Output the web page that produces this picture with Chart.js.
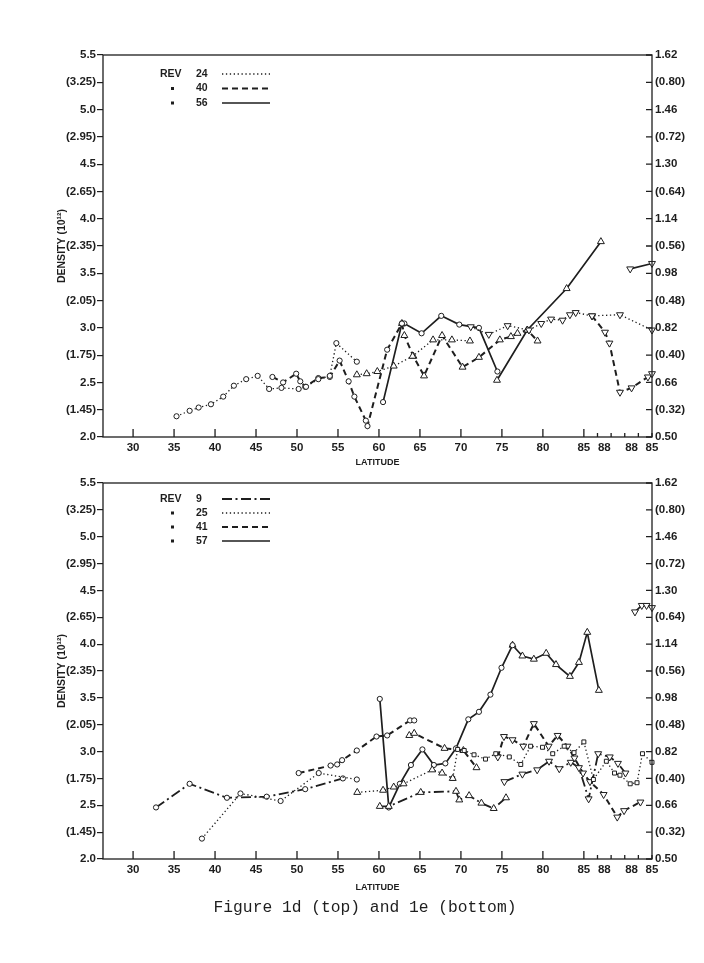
<!DOCTYPE html>
<html>
<head>
<meta charset="utf-8">
<script src="https://cdn.jsdelivr.net/npm/chart.js@4.4.1/dist/chart.umd.min.js"></script>
<style>
  body { margin: 0; background: #fff; width: 704px; height: 963px; position: relative; overflow: hidden; }
  canvas { position: absolute; left: 0; }
  #top { top: 0; }
  #bot { top: 460px; }
  #caption { position: absolute; top: 898px; left: 0; width: 730px; text-align: center;
             font-family: 'Liberation Mono', monospace; font-size: 16.3px; color: #1e1e1e; }
</style>
</head>
<body>
<canvas id="top" width="704" height="475"></canvas>
<canvas id="bot" width="704" height="440"></canvas>
<div id="caption">Figure 1d (top) and 1e (bottom)</div>
<script>
// x axis: latitude up to 85, then the track goes over the pole (90) and back down to 85.
// past 85 the track degrees (86..95) are drawn on a compressed scale
const poleScale = 6.8 / 8.18;
function tx(t) { return t <= 85 ? t : 85 + (t - 85) * poleScale; }

const latTicks = [30, 35, 40, 45, 50, 55, 60, 65, 70, 75, 80, 85];
const poleTicks = [87, 88, 89, 91, 92, 93, 95];
const poleTickLabels = ['', '88', '', '', '88', '', '85'];
const poleTickMarks = [true, false, true, true, false, true, true];

const densityTicks = [2.0, 2.25, 2.5, 2.75, 3.0, 3.25, 3.5, 3.75, 4.0, 4.25, 4.5, 4.75, 5.0, 5.25, 5.5];
const leftLabels = ['2.0', '(1.45)', '2.5', '(1.75)', '3.0', '(2.05)', '3.5', '(2.35)', '4.0', '(2.65)', '4.5', '(2.95)', '5.0', '(3.25)', '5.5'];
const rightLabels = ['0.50', '(0.32)', '0.66', '(0.40)', '0.82', '(0.48)', '0.98', '(0.56)', '1.14', '(0.64)', '1.30', '(0.72)', '1.46', '(0.80)', '1.62'];

// ---- Figure 1d (top): [track latitude, density]
const revsTop = ['24', '40', '56'];
const lineTop = ['dotted', 'dashed', 'solid'];
const top24a = [[35.3,2.19],[36.9,2.24],[38.0,2.27],[39.5,2.30],[41.0,2.37],[42.3,2.47],[43.8,2.53],[45.2,2.56],[46.6,2.44],[48.1,2.45],[50.2,2.44],[51.1,2.46],[52.6,2.53],[54.0,2.56],[54.8,2.86],[57.3,2.69]];
const top24b = [[57.3,2.57],[58.5,2.58],[59.8,2.60],[61.8,2.65],[64.1,2.74],[66.6,2.89],[68.9,2.89],[71.1,2.88]];
const top24c = [[71.2,3.01],[73.4,2.94],[75.7,3.02],[78.3,2.98],[79.8,3.04],[81.0,3.08],[82.4,3.07],[83.3,3.12],[84.0,3.14],[86.2,3.11],[90.3,3.12],[95.0,2.98]];
const top40a = [[47.0,2.55],[48.3,2.50],[49.9,2.58],[50.4,2.51],[51.0,2.46],[52.6,2.54],[54.0,2.55],[55.2,2.70],[56.3,2.51],[57.0,2.37],[58.4,2.15],[58.6,2.10],[61.0,2.80],[62.8,3.04]];
const top40b = [[62.8,3.04],[63.1,2.93],[64.2,2.74],[65.5,2.56],[67.7,2.93],[70.2,2.64],[72.2,2.73],[74.75,2.89],[76.1,2.92],[76.9,2.95],[78.1,2.98],[79.35,2.88]];
const top40c = [[86.2,3.11],[88.1,2.96],[88.75,2.86],[90.3,2.41],[92.0,2.45],[94.4,2.55],[95.0,2.58]];
const top56a = [[60.5,2.32],[62.8,3.04],[63.1,3.04],[65.2,2.95],[67.6,3.11],[69.8,3.03],[72.2,3.00],[74.45,2.60]];
const top56b = [[74.4,2.52],[78.1,2.98],[82.9,3.36],[87.5,3.79]];
const top56c = [[91.8,3.54],[95.0,3.59]];

// ---- Figure 1e (bottom)
const revsBot = ['9', '25', '41', '57'];
const lineBot = ['dashdot', 'dotted', 'dashed', 'solid'];
const bot9a = [[32.8,2.48],[36.9,2.70],[41.45,2.57],[46.3,2.58],[51.0,2.65],[55.6,2.75]];
const bot9b = [[60.1,2.49],[61.2,2.49],[65.1,2.62],[69.4,2.63],[69.8,2.55],[71.0,2.59],[72.5,2.52],[74.0,2.47],[75.5,2.57]];
const bot9c = [[75.3,2.72],[77.5,2.79],[79.3,2.83],[80.75,2.91],[82.0,2.84],[83.4,2.90],[84.4,2.85],[85.7,2.56],[87.1,2.98],[88.8,2.95],[90.0,2.89],[91.1,2.80]];
const bot25a = [[38.4,2.19],[43.1,2.61],[48.0,2.54],[52.65,2.80],[57.3,2.74]];
const bot25b = [[57.35,2.62],[60.5,2.64],[61.8,2.67],[63.0,2.70],[66.5,2.83],[67.7,2.80],[69.0,2.75]];
const bot25c = [[69.0,2.75],[69.6,3.02],[70.4,3.01],[71.6,2.97],[73.0,2.93],[74.25,2.98],[75.9,2.95],[77.3,2.88],[78.5,3.05],[79.95,3.04],[81.2,2.98],[82.6,3.05],[83.8,2.99],[85.0,3.09],[86.4,2.74],[88.3,2.91],[89.5,2.80],[90.3,2.78],[91.8,2.70],[92.8,2.71],[93.6,2.98],[95.0,2.90]];
const bot41a = [[50.2,2.80],[54.1,2.87],[54.9,2.88],[55.5,2.92],[57.3,3.01],[59.7,3.14],[61.0,3.15],[63.8,3.29],[64.3,3.29]];
const bot41b = [[63.7,3.15],[64.3,3.17],[68.0,3.03],[70.3,3.01],[71.9,2.85]];
const bot41c = [[74.5,2.95],[75.25,3.14],[76.3,3.11],[77.6,3.05],[78.9,3.26],[80.7,3.05],[81.8,3.15],[83.0,3.05],[83.85,2.94],[84.9,2.80],[85.9,2.72],[87.9,2.60],[89.9,2.39],[90.9,2.45],[93.3,2.53]];
const bot57a = [[60.1,3.49],[61.2,2.48],[62.55,2.70],[63.9,2.875],[65.3,3.02],[66.7,2.875],[68.1,2.89],[69.4,3.03],[70.9,3.30],[72.2,3.37],[73.6,3.53],[74.95,3.78],[76.3,3.99]];
const bot57b = [[76.3,3.99],[77.5,3.89],[78.9,3.86],[80.4,3.915],[81.6,3.81],[83.3,3.70],[84.4,3.83],[85.5,4.11],[87.2,3.57]];
const bot57c = [[92.5,4.30],[93.5,4.36],[94.2,4.36],[95.0,4.34]];

const segsTop = [
  {rev: '24', pts: top24a, mark: 'circle'}, {rev: '24', pts: top24b, mark: 'tri'}, {rev: '24', pts: top24c, mark: 'itri'},
  {rev: '40', pts: top40a, mark: 'circle'}, {rev: '40', pts: top40b, mark: 'tri'}, {rev: '40', pts: top40c, mark: 'itri'},
  {rev: '56', pts: top56a, mark: 'circle'}, {rev: '56', pts: top56b, mark: 'tri'}, {rev: '56', pts: top56c, mark: 'itri'}
];
const segsBot = [
  {rev: '25', pts: bot25a, mark: 'circle'}, {rev: '25', pts: bot25b, mark: 'tri'}, {rev: '25', pts: bot25c, mark: 'sq'},
  {rev: '9', pts: bot9a, mark: 'circle'}, {rev: '9', pts: bot9b, mark: 'tri'}, {rev: '9', pts: bot9c, mark: 'itri'},
  {rev: '41', pts: bot41a, mark: 'circle'}, {rev: '41', pts: bot41b, mark: 'tri'}, {rev: '41', pts: bot41c, mark: 'itri'},
  {rev: '57', pts: bot57a, mark: 'circle'}, {rev: '57', pts: bot57b, mark: 'tri'}, {rev: '57', pts: bot57c, mark: 'itri'}
];

const ink = '#1e1e1e';
const styles = {
  dotted: {dash: [1.3, 2.6], width: 1.3},
  dashed: {dash: [6, 4], width: 2},
  solid: {dash: [], width: 1.7},
  dashdot: {dash: [10, 3.5, 2, 3.5], width: 1.8}
};
const marks = {
  circle: {style: 'circle', rot: 0, r: 2.6},
  tri: {style: 'triangle', rot: 0, r: 4},
  itri: {style: 'triangle', rot: 180, r: 4},
  sq: {style: 'rect', rot: 0, r: 2.8}
};

const xTickVals = latTicks.concat(poleTicks).map(tx);
const xTickText = latTicks.map(String).concat(poleTickLabels);
const xTickMarks = latTicks.map(() => true).concat(poleTickMarks);

function toDataset(seg, revs, lines) {
  const s = styles[lines[revs.indexOf(seg.rev)]];
  const m = marks[seg.mark];
  return {
    label: 'REV ' + seg.rev,
    data: seg.pts.map(p => ({x: tx(p[0]), y: p[1]})),
    showLine: true,
    borderColor: ink,
    borderWidth: s.width,
    borderDash: s.dash,
    pointStyle: m.style,
    pointRotation: m.rot,
    pointRadius: m.r,
    pointBackgroundColor: '#fff',
    pointBorderColor: ink,
    pointBorderWidth: 1,
    clip: 6
  };
}

// box round the plot and the inward tick marks (bottom and right)
const framePlugin = {
  id: 'frame',
  afterDraw(chart) {
    const {ctx, chartArea: a, scales} = chart;
    ctx.save();
    ctx.strokeStyle = ink;
    ctx.lineWidth = 1.3;
    ctx.setLineDash([]);
    ctx.strokeRect(a.left, a.top, a.right - a.left, a.bottom - a.top);
    ctx.beginPath();
    scales.x.ticks.forEach((t, i) => {
      if (!xTickMarks[i]) return;
      const px = scales.x.getPixelForValue(t.value);
      const len = i < latTicks.length ? 8 : 4;
      ctx.moveTo(px, a.bottom);
      ctx.lineTo(px, a.bottom - len);
    });
    scales.y2.ticks.forEach(t => {
      const py = scales.y2.getPixelForValue(t.value);
      ctx.moveTo(a.right - 6, py);
      ctx.lineTo(a.right, py);
    });
    ctx.stroke();
    ctx.restore();
  }
};

// "REV 24 ....." key in the upper left corner
const revLegend = {
  id: 'revLegend',
  afterDraw(chart, args, opts) {
    const {ctx, chartArea: a} = chart;
    ctx.save();
    ctx.fillStyle = ink;
    ctx.strokeStyle = ink;
    ctx.textBaseline = 'middle';
    ctx.font = 'bold 10.5px "Liberation Sans"';
    opts.revs.forEach((rev, i) => {
      const y = a.top + opts.top + i * opts.step;
      if (i === 0) ctx.fillText('REV', a.left + 57, y);
      else ctx.fillRect(a.left + 68, y - 1.5, 3, 3);
      ctx.fillText(rev, a.left + 93, y);
      const s = styles[opts.lines[i]];
      ctx.lineWidth = s.width;
      ctx.setLineDash(s.dash);
      ctx.beginPath();
      ctx.moveTo(a.left + 119, y);
      ctx.lineTo(a.left + 167, y);
      ctx.stroke();
    });
    ctx.restore();
  }
};

const tickFont = {family: 'Liberation Sans', size: 11.5, weight: 'bold'};

function makeChart(id, segs, revs, lines, cfg) {
  return new Chart(document.getElementById(id), {
    type: 'scatter',
    data: {datasets: segs.map(s => toDataset(s, revs, lines))},
    plugins: [framePlugin, revLegend],
    options: {
      responsive: false,
      animation: false,
      layout: {padding: {top: cfg.padTop, left: 0, right: 0, bottom: 0}},
      plugins: {
        legend: {display: false},
        tooltip: {enabled: false},
        revLegend: {revs: revs, lines: lines, top: cfg.keyTop, step: cfg.keyStep}
      },
      scales: {
        x: {
          type: 'linear',
          min: 26.33,
          max: tx(95),
          afterBuildTicks: s => { s.ticks = xTickVals.map(v => ({value: v})); },
          afterFit: s => { s.height = cfg.xHeight; },
          grid: {display: false, drawTicks: false},
          border: {display: false},
          ticks: {autoSkip: false, maxRotation: 0, padding: 4, font: tickFont, color: ink,
                  callback: (v, i) => xTickText[i]},
          title: {display: true, text: 'LATITUDE', color: ink,
                  font: {family: 'Liberation Sans', size: 9, weight: 'bold'}, padding: {top: 0, bottom: 7}}
        },
        y: {
          position: 'left',
          min: 2.0,
          max: 5.5,
          afterBuildTicks: s => { s.ticks = densityTicks.map(v => ({value: v})); },
          afterFit: s => { s.width = 103; },
          grid: {display: true, drawOnChartArea: false, drawTicks: true, tickLength: 6, color: ink, lineWidth: 1.2},
          border: {display: false},
          ticks: {padding: 1, font: tickFont, color: ink, callback: (v, i) => leftLabels[i]},
          title: {display: true, text: 'DENSITY (10¹²)', color: ink,
                  font: {family: 'Liberation Sans', size: 10.5, weight: 'bold'}, padding: {top: 55.7, bottom: 0}}
        },
        y2: {
          position: 'right',
          min: 2.0,
          max: 5.5,
          afterBuildTicks: s => { s.ticks = densityTicks.map(v => ({value: v})); },
          afterFit: s => { s.width = 52; },
          grid: {display: false, drawTicks: false},
          border: {display: false},
          ticks: {padding: 3, font: tickFont, color: ink, callback: (v, i) => rightLabels[i]}
        }
      }
    }
  });
}

makeChart('top', segsTop, revsTop, lineTop, {padTop: 55, xHeight: 38, keyTop: 19, keyStep: 14.5});
makeChart('bot', segsBot, revsBot, lineBot, {padTop: 23, xHeight: 41, keyTop: 16, keyStep: 14});
</script>
</body>
</html>
